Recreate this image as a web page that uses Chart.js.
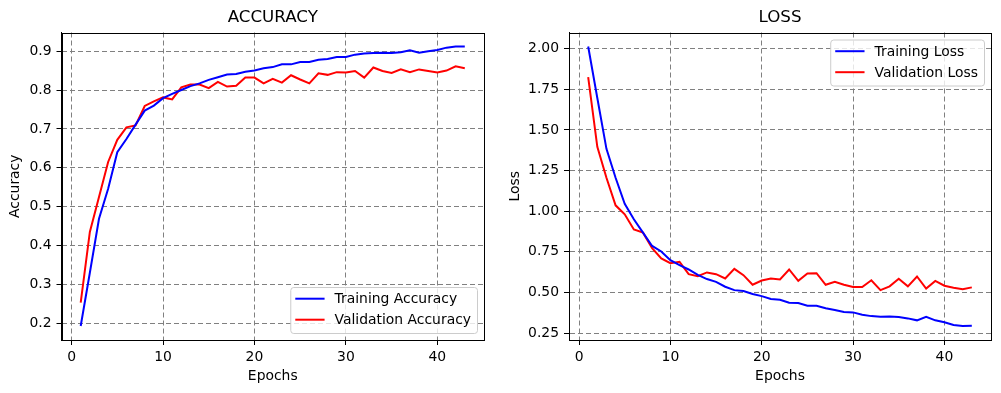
<!DOCTYPE html>
<html>
<head>
<meta charset="utf-8">
<script src="https://cdn.jsdelivr.net/npm/chart.js@4.4.1/dist/chart.umd.min.js"></script>
<style>
  html, body { margin: 0; padding: 0; background: #fff; }
  #wrap { position: relative; width: 1001px; height: 393px; }
  .panel { position: absolute; top: 0; height: 393px; }
</style>
</head>
<body>
<div id="wrap">
  <div class="panel" style="left:0;width:500px;"><canvas id="chart-acc" width="500" height="393"></canvas></div>
  <div class="panel" style="left:500px;width:501px;"><canvas id="chart-loss" width="501" height="393"></canvas></div>
</div>
<script>
// Values
const epochs = [1,2,3,4,5,6,7,8,9,10,11,12,13,14,15,16,17,18,19,20,21,22,23,24,25,26,27,28,29,30,31,32,33,34,35,36,37,38,39,40,41,42,43];

const trainAcc = [0.193,0.330,0.469,0.546,0.640,0.674,0.711,0.747,0.760,0.779,0.790,0.800,0.810,0.817,0.826,0.833,0.840,0.841,0.847,0.850,
                  0.856,0.859,0.866,0.866,0.872,0.872,0.878,0.880,0.885,0.885,0.891,0.894,0.895,0.896,0.895,0.897,0.902,0.896,0.900,0.903,
                  0.909,0.912,0.912];
const valAcc   = [0.253,0.435,0.525,0.615,0.672,0.704,0.709,0.759,0.771,0.781,0.776,0.807,0.814,0.814,0.805,0.821,0.809,0.811,0.832,0.832,
                  0.817,0.829,0.819,0.838,0.827,0.817,0.843,0.839,0.846,0.845,0.849,0.832,0.858,0.849,0.844,0.853,0.846,0.853,0.849,0.845,
                  0.850,0.861,0.856];

const trainLoss = [2.014,1.697,1.384,1.206,1.046,0.950,0.868,0.786,0.752,0.698,0.668,0.641,0.608,0.582,0.565,0.535,0.514,0.508,0.490,0.477,
                   0.459,0.455,0.436,0.434,0.418,0.418,0.402,0.391,0.379,0.377,0.363,0.354,0.350,0.352,0.348,0.340,0.328,0.350,0.328,0.316,
                   0.299,0.293,0.295];
const valLoss   = [1.826,1.396,1.206,1.036,0.981,0.887,0.868,0.772,0.709,0.680,0.688,0.612,0.600,0.623,0.612,0.586,0.645,0.606,0.547,0.573,
                   0.586,0.580,0.641,0.571,0.616,0.618,0.547,0.565,0.547,0.533,0.533,0.575,0.514,0.537,0.584,0.537,0.598,0.524,0.571,0.541,
                   0.529,0.519,0.531];

const epochTicks = [0, 10, 20, 30, 40];
const accTicks   = [0.2, 0.3, 0.4, 0.5, 0.6, 0.7, 0.8, 0.9];
const lossTicks  = [0.25, 0.5, 0.75, 1.0, 1.25, 1.5, 1.75, 2.0];

Chart.defaults.font.family = "'DejaVu Sans', sans-serif";
Chart.defaults.color = '#000';

// matplotlib-style 5% margins around the data
function padRange(values) {
  const lo = Math.min(...values), hi = Math.max(...values);
  const m = (hi - lo) * 0.05;
  return { min: lo - m, max: hi + m };
}

// frame on all four sides + legend box inside the axes
const mplDecor = {
  id: 'mplDecor',
  afterDatasetsDraw(chart) {
    const { ctx, chartArea: a } = chart;
    ctx.save();
    ctx.strokeStyle = '#000';
    ctx.lineWidth = 1;
    ctx.strokeRect(Math.round(a.left) + 0.5, Math.round(a.top) + 0.5,
                   Math.round(a.right) - Math.round(a.left), Math.round(a.bottom) - Math.round(a.top));
    ctx.restore();
  },
  afterDraw(chart, args, opts) {
    const { ctx, chartArea: a } = chart;
    const fs = 13.9;
    const items = chart.data.datasets;
    ctx.save();
    ctx.font = fs + "px 'DejaVu Sans', sans-serif";
    const textW = Math.max(...items.map(d => ctx.measureText(d.label).width));
    const padX = 5, handle = 29.3, gap = 10, rowStep = 21;
    const w = padX + handle + gap + textW + 6;
    const h = 46;
    const x = a.right - 7 - w;
    const y = opts.loc === 'upper right' ? a.top + 7 : a.bottom - 7 - h;
    ctx.beginPath();
    if (ctx.roundRect) ctx.roundRect(x + 0.5, y + 0.5, w, h, 3); else ctx.rect(x + 0.5, y + 0.5, w, h);
    ctx.fillStyle = 'rgba(255,255,255,0.8)';
    ctx.fill();
    ctx.strokeStyle = '#cccccc';
    ctx.lineWidth = 1;
    ctx.stroke();
    items.forEach((d, i) => {
      const cy = y + 11.7 + i * rowStep;
      ctx.beginPath();
      ctx.moveTo(x + padX, cy);
      ctx.lineTo(x + padX + handle, cy);
      ctx.strokeStyle = d.borderColor;
      ctx.lineWidth = 2;
      ctx.stroke();
      ctx.fillStyle = '#000';
      ctx.textBaseline = 'middle';
      ctx.textAlign = 'left';
      ctx.fillText(d.label, x + padX + handle + gap, cy + 1);
    });
    ctx.restore();
  }
};

function makePanel(canvasId, cfg) {
  const xr = padRange(epochs);
  const yr = padRange(cfg.series[0].concat(cfg.series[1]));
  const gridOpts = { color: '#808080', lineWidth: 1, tickColor: '#000', tickLength: 5, tickWidth: 1 };
  const borderOpts = { display: true, color: '#000', width: 1, dash: [5, 3] };

  new Chart(document.getElementById(canvasId), {
    type: 'line',
    data: {
      labels: epochs,
      datasets: [
        { label: cfg.labels[0], data: epochs.map((e, i) => ({ x: e, y: cfg.series[0][i] })),
          borderColor: '#0000ff', backgroundColor: '#0000ff', borderWidth: 2, pointRadius: 0, tension: 0 },
        { label: cfg.labels[1], data: epochs.map((e, i) => ({ x: e, y: cfg.series[1][i] })),
          borderColor: '#ff0000', backgroundColor: '#ff0000', borderWidth: 2, pointRadius: 0, tension: 0 }
      ]
    },
    options: {
      responsive: false,
      animation: false,
      devicePixelRatio: 1,
      layout: { padding: { left: 0, top: 0, right: cfg.rightPad, bottom: 0 } },
      plugins: {
        legend: { display: false },
        tooltip: { enabled: false },
        mplDecor: { loc: cfg.legendLoc }
      },
      scales: {
        x: {
          type: 'linear',
          min: xr.min, max: xr.max,
          afterBuildTicks: s => { s.ticks = epochTicks.map(v => ({ value: v })); },
          ticks: { padding: 4, font: { size: 13.9 }, color: '#000', callback: v => String(v) },
          grid: gridOpts,
          border: borderOpts,
          title: { display: true, text: 'Epochs', color: '#000', font: { size: 13.9 }, padding: { top: 0, bottom: 8.7 } },
          afterFit: s => { s.height = 53; }
        },
        y: {
          type: 'linear',
          min: yr.min, max: yr.max,
          afterBuildTicks: s => { s.ticks = cfg.yTicks.map(v => ({ value: v })); },
          ticks: { padding: 5, font: { size: 13.9 }, color: '#000', callback: v => v.toFixed(cfg.decimals) },
          grid: gridOpts,
          border: borderOpts,
          title: { display: true, text: cfg.yLabel, color: '#000', font: { size: 13.9 }, padding: { top: 7.5, bottom: 0 } },
          afterFit: s => { s.width = cfg.axisLeft; }
        },
        // holds the panel title, centred over the axes like matplotlib
        top: {
          type: 'linear',
          position: 'top',
          ticks: { display: false },
          grid: { display: false, drawTicks: false },
          border: { display: false },
          title: { display: true, text: cfg.title, color: '#000', font: { size: 16.7 }, padding: { top: 7.5, bottom: 0 } },
          afterFit: s => { s.height = 32.5; }
        }
      }
    },
    plugins: [mplDecor]
  });
}

makePanel('chart-acc', {
  title: 'ACCURACY', yLabel: 'Accuracy',
  labels: ['Training Accuracy', 'Validation Accuracy'],
  series: [trainAcc, valAcc],
  yTicks: accTicks, decimals: 1,
  axisLeft: 61.5, rightPad: 16, legendLoc: 'lower right'
});

makePanel('chart-loss', {
  title: 'LOSS', yLabel: 'Loss',
  labels: ['Training Loss', 'Validation Loss'],
  series: [trainLoss, valLoss],
  yTicks: lossTicks, decimals: 2,
  axisLeft: 69, rightPad: 10, legendLoc: 'upper right'
});
</script>
</body>
</html>
